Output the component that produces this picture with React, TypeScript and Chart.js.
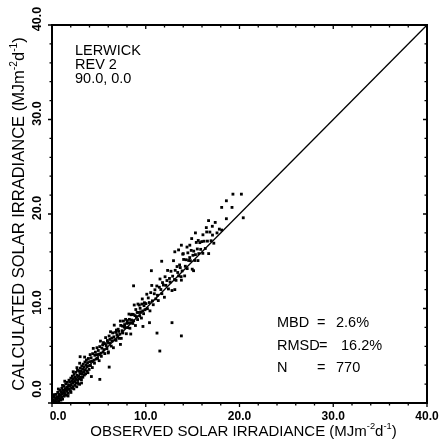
import React, { useEffect, useRef } from "react";
import { Chart, registerables } from "chart.js";

Chart.register(...registerables);

// ---- axis data ----
const AXIS_MIN = 0;
const AXIS_MAX = 40;
const MINOR_STEP = 2;
const majorTickValues = [0, 10, 20, 30, 40];
const tickLabels = ["0.0", "10.0", "20.0", "30.0", "40.0"];

// ---- scatter data: [observed, calculated] (MJ m-2 d-1) ----
const pointsLow: [number, number][] = [
  [0.12, 0.35], [0.18, 0.05], [0.25, 0.62], [0.31, 0.22], [0.38, 0.48], [0.42, 0.91], [0.47, 0.15],
  [0.53, 0.66], [0.58, 0.38], [0.61, 1.12], [0.66, 0.52], [0.72, 0.21], [0.74, 0.95], [0.79, 0.71],
  [0.83, 1.34], [0.88, 0.46], [0.91, 0.88], [0.97, 1.21], [1.02, 0.63], [1.04, 1.55], [1.09, 0.94],
  [1.13, 0.41], [1.17, 1.33], [1.22, 1.02], [1.26, 1.78], [1.29, 0.72], [1.33, 1.21], [1.38, 1.52],
  [1.41, 0.98], [1.46, 2.04], [1.49, 1.37], [1.53, 0.82], [1.57, 1.69], [1.62, 1.24], [1.64, 2.18],
  [1.68, 1.51], [1.73, 1.02], [1.76, 1.88], [1.81, 2.41], [1.84, 1.46], [1.88, 1.77], [1.93, 2.22],
  [1.97, 1.28], [2.01, 2.63], [2.04, 1.92], [2.09, 1.57], [2.12, 2.35], [2.17, 2.84], [2.21, 1.73],
  [2.24, 2.11], [2.28, 2.58], [2.33, 1.49], [2.36, 3.02], [2.41, 2.27], [2.44, 1.86], [2.48, 2.71],
  [2.53, 3.25], [2.56, 2.12], [2.61, 2.49], [2.64, 1.72], [2.68, 2.93], [2.72, 3.46], [2.75, 2.38],
  [2.79, 2.07], [2.83, 2.81], [2.87, 3.37], [2.91, 2.55], [2.94, 1.98], [2.98, 3.12], [3.02, 3.68],
  [3.06, 2.71], [3.09, 3.35], [3.14, 2.48], [3.17, 3.92], [3.21, 3.04], [3.26, 3.58], [3.29, 2.73],
  [3.33, 4.11], [3.38, 3.27], [3.42, 3.81], [3.45, 2.96], [3.51, 4.34], [3.54, 3.52], [3.58, 3.09],
  [3.63, 4.02], [3.67, 4.56], [3.71, 3.38], [3.74, 3.86], [3.79, 4.27], [3.83, 3.21], [3.88, 4.71],
  [3.92, 3.94], [3.96, 3.55], [0.22, 0.88], [0.51, 0.02], [0.95, 0.31], [1.36, 2.31], [1.71, 0.74],
  [2.26, 3.31], [2.66, 3.74], [3.15, 2.12], [1.12, 1.86], [0.68, 1.48], [2.95, 4.21], [3.48, 4.86],
  [2.02, 1.12], [4.2, 2.8], [5.1, 2.5], [3.0, 4.9],
];

const pointsMid: [number, number][] = [
  [4.02, 4.37], [4.07, 5.12], [4.11, 3.96], [4.17, 4.79], [4.25, 4.43], [4.3, 3.75], [4.34, 5.22],
  [4.4, 5.78], [4.48, 4.53], [4.53, 4.21], [4.57, 5.05], [4.63, 5.38], [4.71, 4.66], [4.76, 5.11],
  [4.8, 5.85], [4.86, 4.71], [4.94, 5.56], [4.99, 5.17], [5.03, 4.48], [5.09, 5.97], [5.17, 6.55],
  [5.22, 5.27], [5.26, 4.94], [5.32, 5.8], [5.4, 6.15], [5.45, 5.4], [5.49, 6.39], [5.55, 5.65],
  [5.63, 5.23], [5.68, 6.28], [5.72, 6.92], [5.78, 6.08], [5.86, 5.76], [5.91, 6.61], [5.95, 6.4],
  [6.01, 5.41], [6.09, 7.09], [6.14, 6.34], [6.18, 6.73], [6.24, 7.54], [6.32, 6.02], [6.37, 6.87],
  [6.41, 6.56], [6.47, 7.42], [6.55, 5.85], [6.6, 7.0], [6.64, 8.24], [6.7, 6.7], [6.78, 7.48],
  [6.83, 6.63], [6.87, 7.72], [6.93, 7.23], [7.01, 6.96], [7.06, 7.81], [7.1, 7.58], [7.16, 6.84],
  [7.24, 7.29], [7.29, 8.67], [7.33, 8.21], [7.39, 6.84], [7.47, 7.65], [7.52, 8.14], [7.56, 7.41],
  [7.62, 8.67], [7.7, 8.05], [7.75, 8.3], [7.79, 7.99], [7.85, 8.85], [7.93, 7.33], [7.98, 8.43],
  [8.02, 8.72], [8.08, 7.98], [8.16, 8.46], [8.21, 9.41], [8.25, 8.85], [8.31, 7.91], [8.39, 8.49],
  [8.44, 9.34], [8.48, 8.78], [8.54, 9.39], [8.62, 8.42], [8.67, 9.37], [8.71, 8.71], [8.77, 10.37],
  [8.85, 9.25], [8.9, 8.2], [8.94, 9.89], [9.0, 9.15], [9.08, 9.58], [9.13, 8.83], [9.17, 10.47],
  [9.23, 9.58], [9.31, 10.36], [9.36, 9.21], [9.4, 10.02], [9.46, 9.64], [9.54, 8.99], [9.59, 10.47],
  [9.63, 11.01], [9.69, 9.74], [9.77, 9.45], [9.82, 10.3], [9.86, 10.61], [9.92, 9.87],
  [6.1, 3.8], [8.7, 12.4], [9.7, 8.1], [6.0, 5.3], [7.3, 6.2], [8.4, 7.3],
];

const pointsHigh: [number, number][] = [
  [10.02, 10.52], [10.11, 11.51], [10.18, 9.98], [10.27, 11.12], [10.38, 10.63], [10.45, 9.75],
  [10.53, 11.68], [10.64, 12.44], [10.71, 10.81], [10.8, 10.4], [10.91, 11.56], [10.98, 11.98],
  [11.07, 11.02], [11.18, 12.38], [11.25, 11.4], [11.34, 10.84], [11.45, 12.25], [11.52, 13.12],
  [11.61, 12.01], [11.72, 11.57], [11.79, 12.74], [11.88, 12.48], [11.99, 11.19], [12.06, 13.36],
  [12.15, 12.45], [12.26, 12.96], [12.33, 14.03], [12.42, 12.07], [12.53, 13.18], [12.6, 12.8],
  [12.69, 13.94], [12.8, 11.9], [12.87, 13.42], [12.96, 15.06], [13.07, 13.07], [13.14, 14.04],
  [13.23, 12.98], [13.34, 14.44], [13.41, 13.81], [13.5, 13.45], [13.61, 14.61], [13.68, 14.33],
  [13.77, 13.37], [13.88, 13.98], [13.95, 15.75], [14.04, 15.19], [14.15, 13.45], [14.22, 14.47],
  [14.31, 15.16], [14.42, 14.22], [14.49, 15.89], [14.58, 15.08], [14.69, 15.39], [14.76, 15.06],
  [14.85, 16.15], [14.96, 14.16], [15.03, 15.63], [15.12, 16.07], [15.23, 15.08], [15.3, 15.7],
  [15.39, 16.99], [15.5, 16.3], [15.57, 15.07], [15.66, 15.81], [15.77, 16.97], [15.86, 16.26],
  [15.98, 17.08], [16.09, 15.84], [16.22, 17.12], [16.35, 16.35], [16.46, 18.56], [16.58, 17.13],
  [16.71, 15.81], [16.84, 18.09], [16.97, 17.17], [17.12, 17.77], [17.26, 16.91], [17.41, 19.11],
  [17.6, 18.0], [17.85, 18.4], [18.1, 18.3], [18.1, 20.7], [18.6, 21.4], [18.6, 19.5], [19.2, 20.7],
  [19.3, 22.1], [20.2, 22.1], [20.4, 19.6], [17.1, 18.7], [16.7, 19.3],
  [10.4, 8.5], [10.6, 14.0], [11.2, 7.4], [11.5, 5.5], [11.7, 15.0], [12.8, 8.5], [13.1, 12.0],
  [13.1, 16.0], [13.5, 16.2], [13.8, 13.0], [13.8, 7.1], [13.8, 16.7], [14.0, 15.8], [14.4, 16.5],
  [14.7, 16.7], [14.9, 17.4], [15.1, 14.0], [15.3, 18.0], [15.6, 17.2], [16.1, 17.8], [16.5, 18.1],
];

// 1:1 reference line
const identityLine = [
  { x: 0, y: 0 },
  { x: 40, y: 40 },
];

// ---- text ----
const siteLines = ["LERWICK", "REV 2", "90.0, 0.0"];
const statNames = ["MBD", "RMSD", "N"];
const statValues = ["2.6%", "16.2%", "770"];
const xTitleMain = "OBSERVED SOLAR IRRADIANCE";
const yTitleMain = "CALCULATED SOLAR IRRADIANCE";
const unitParts: { t: string; sup: boolean }[] = [
  { t: " (MJm", sup: false },
  { t: "-2", sup: true },
  { t: "d", sup: false },
  { t: "-1", sup: true },
  { t: ")", sup: false },
];

const FONT = '"Liberation Sans", Arial, sans-serif';

function drawTitle(ctx: CanvasRenderingContext2D, main: string, size: number, cx: number, baseY: number) {
  const parts = [{ t: main, sup: false }, ...unitParts];
  let total = 0;
  const widths: number[] = [];
  for (const p of parts) {
    ctx.font = `${p.sup ? size * 0.62 : size}px ${FONT}`;
    const w = ctx.measureText(p.t).width;
    widths.push(w);
    total += w;
  }
  let x0 = cx - total / 2;
  ctx.textAlign = "left";
  ctx.textBaseline = "alphabetic";
  parts.forEach((p, i) => {
    ctx.font = `${p.sup ? size * 0.62 : size}px ${FONT}`;
    ctx.fillText(p.t, x0, baseY - (p.sup ? size * 0.45 : 0));
    x0 += widths[i];
  });
}

const framePlugin = {
  id: "framePlugin",
  afterDraw(chart: any) {
    const { ctx, chartArea } = chart;
    const { left, right, top, bottom } = chartArea;
    const xs = chart.scales.x;
    const ys = chart.scales.y;
    ctx.save();
    ctx.fillStyle = "#000";
    ctx.strokeStyle = "#000";

    // frame
    ctx.lineWidth = 2;
    ctx.strokeRect(left, top, right - left, bottom - top);

    // ticks
    ctx.lineWidth = 1.3;
    for (let v = AXIS_MIN; v <= AXIS_MAX; v += MINOR_STEP) {
      const major = majorTickValues.includes(v);
      const len = major ? 4 : 2.5;
      const px = xs.getPixelForValue(v);
      const py = ys.getPixelForValue(v);
      ctx.beginPath();
      ctx.moveTo(px, bottom);
      ctx.lineTo(px, bottom + len);
      ctx.moveTo(left, py);
      ctx.lineTo(left - len, py);
      ctx.moveTo(right, py);
      ctx.lineTo(right - len, py);
      ctx.moveTo(px, top);
      ctx.lineTo(px, top + len);
      ctx.stroke();
    }

    // x tick labels
    ctx.font = `bold 12px ${FONT}`;
    ctx.textAlign = "center";
    ctx.textBaseline = "middle";
    majorTickValues.forEach((v, i) => {
      const px = xs.getPixelForValue(v) + (i === 0 ? 6 : 0);
      ctx.fillText(tickLabels[i], px, bottom + 14);
    });

    // y tick labels (rotated)
    ctx.font = `bold 12.5px ${FONT}`;
    majorTickValues.forEach((v, i) => {
      const py = ys.getPixelForValue(v) - (i === 0 ? 14 : 6);
      ctx.save();
      ctx.translate(left - 14, py);
      ctx.rotate(-Math.PI / 2);
      ctx.fillText(tickLabels[i], 0, 0);
      ctx.restore();
    });

    // axis titles
    drawTitle(ctx, xTitleMain, 15, (left + right) / 2 + 4, bottom + 33);
    ctx.save();
    ctx.translate(left - 28, (top + bottom) / 2);
    ctx.rotate(-Math.PI / 2);
    drawTitle(ctx, yTitleMain, 16.5, 0, 0);
    ctx.restore();

    // site annotation
    ctx.font = `14.5px ${FONT}`;
    ctx.textAlign = "left";
    ctx.textBaseline = "middle";
    siteLines.forEach((s, i) => {
      ctx.fillText(s, left + 23, top + 26 + i * 14);
    });

    // statistics
    statNames.forEach((s, i) => {
      const yy = bottom - 80 + i * 22.5;
      ctx.fillText(s, right - 150, yy);
      ctx.fillText("=", s === "RMSD" ? right - 108 : right - 110, yy);
      ctx.fillText(statValues[i], s === "RMSD" ? right - 86 : right - 91, yy);
    });

    ctx.restore();
  },
};

export default function App() {
  const canvasRef = useRef<HTMLCanvasElement | null>(null);

  useEffect(() => {
    document.body.style.margin = "0";
    const canvas = canvasRef.current;
    if (!canvas) return;
    const all = [...pointsLow, ...pointsMid, ...pointsHigh].map(([x, y]) => ({ x, y }));
    const chart = new Chart(canvas, {
      type: "scatter",
      data: {
        datasets: [
          {
            type: "line",
            data: identityLine,
            borderColor: "#000",
            borderWidth: 1.3,
            pointRadius: 0,
            order: 1,
          } as any,
          {
            type: "scatter",
            data: all,
            pointStyle: "rect",
            pointRadius: 2,
            borderWidth: 0,
            backgroundColor: "#000",
            order: 2,
          },
        ],
      },
      options: {
        responsive: false,
        devicePixelRatio: 1,
        animation: false,
        layout: { padding: { left: 52, right: 19, top: 25, bottom: 45 } },
        scales: {
          x: { type: "linear", min: AXIS_MIN, max: AXIS_MAX, display: false },
          y: { type: "linear", min: AXIS_MIN, max: AXIS_MAX, display: false },
        },
        plugins: {
          legend: { display: false },
          tooltip: { enabled: false },
        },
      },
      plugins: [framePlugin],
    });
    return () => chart.destroy();
  }, []);

  return (
    <div style={{ width: 446, height: 448, background: "#fff" }}>
      <canvas ref={canvasRef} width={446} height={448} />
    </div>
  );
}
